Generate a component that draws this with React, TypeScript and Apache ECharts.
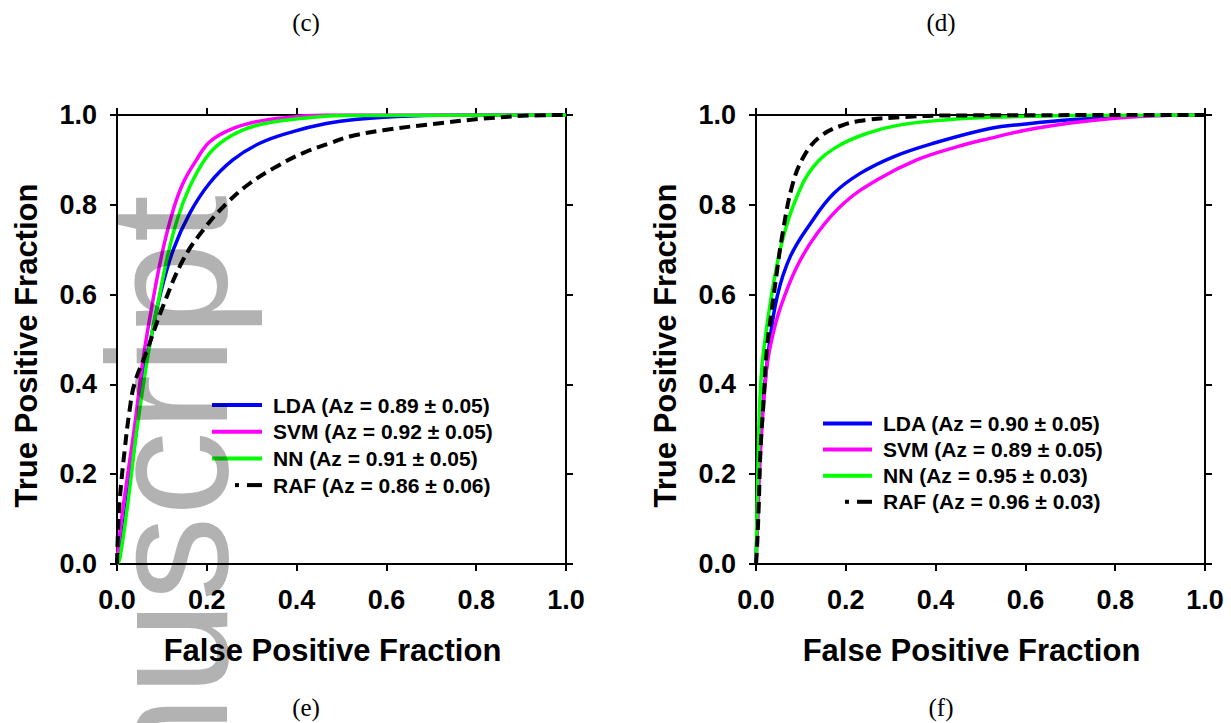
import React, { useEffect, useRef } from "react";
import * as echarts from "echarts";

// ---------- data ----------
const TICKS = [0, 0.2, 0.4, 0.6, 0.8, 1.0];
const X_TITLE = "False Positive Fraction";
const Y_TITLE = "True Positive Fraction";
const PANEL_TOP = ["(c)", "(d)"];
const PANEL_BOTTOM = ["(e)", "(f)"];
const METHODS = ["LDA", "SVM", "NN", "RAF"];
const COLORS = ["#0000ff", "#ff00ff", "#00ff00", "#000000"];

const AZ_C = ["0.89 ± 0.05", "0.92 ± 0.05", "0.91 ± 0.05", "0.86 ± 0.06"];
const AZ_D = ["0.90 ± 0.05", "0.89 ± 0.05", "0.95 ± 0.03", "0.96 ± 0.03"];

// panel (c)
const LDA_C = [[0,0],[0.006,0.02],[0.024,0.15],[0.042,0.29],[0.06,0.43],[0.075,0.5],[0.095,0.595],[0.125,0.699],[0.162,0.781],[0.206,0.848],[0.258,0.9],[0.318,0.937],[0.392,0.963],[0.466,0.981],[0.53,0.99],[0.65,0.998],[0.8,1],[1,1]];
const SVM_C = [[0,0],[0.006,0.067],[0.021,0.179],[0.039,0.305],[0.058,0.455],[0.08,0.587],[0.102,0.699],[0.125,0.788],[0.147,0.848],[0.177,0.9],[0.206,0.94],[0.251,0.967],[0.31,0.985],[0.385,0.995],[0.467,1],[1,1]];
const NN_C = [[0,0],[0.006,0.01],[0.025,0.142],[0.043,0.29],[0.062,0.42],[0.075,0.5],[0.091,0.58],[0.114,0.692],[0.136,0.773],[0.162,0.84],[0.195,0.9],[0.229,0.937],[0.281,0.967],[0.34,0.983],[0.415,0.993],[0.5,0.999],[1,1]];
const RAF_C = [[0,0],[0.002,0.067],[0.006,0.142],[0.017,0.253],[0.028,0.342],[0.039,0.402],[0.065,0.47],[0.102,0.573],[0.147,0.677],[0.192,0.744],[0.244,0.803],[0.296,0.848],[0.355,0.885],[0.414,0.915],[0.474,0.937],[0.518,0.952],[0.593,0.966],[0.704,0.98],[0.816,0.992],[0.927,0.999],[1,1]];

// panel (d)
const LDA_D = [[0,0],[0.003,0.1],[0.008,0.25],[0.017,0.37],[0.028,0.476],[0.047,0.595],[0.076,0.684],[0.121,0.758],[0.173,0.825],[0.232,0.87],[0.306,0.907],[0.395,0.937],[0.521,0.97],[0.6,0.98],[0.707,0.99],[0.855,0.998],[1,1]];
const SVM_D = [[0,0],[0.004,0.1],[0.01,0.25],[0.023,0.43],[0.035,0.5],[0.054,0.57],[0.091,0.662],[0.136,0.736],[0.195,0.803],[0.269,0.855],[0.358,0.9],[0.447,0.929],[0.521,0.948],[0.6,0.966],[0.7,0.982],[0.8,0.993],[0.9,0.999],[1,1]];
const NN_D = [[0,0],[0.001,0.05],[0.006,0.29],[0.011,0.41],[0.017,0.476],[0.039,0.625],[0.061,0.729],[0.091,0.818],[0.128,0.885],[0.18,0.929],[0.247,0.959],[0.321,0.978],[0.432,0.99],[0.521,0.995],[0.7,0.999],[1,1]];
const RAF_D = [[0,0],[0.002,0.03],[0.006,0.127],[0.01,0.253],[0.017,0.364],[0.024,0.476],[0.036,0.572],[0.047,0.654],[0.058,0.729],[0.08,0.84],[0.106,0.907],[0.143,0.952],[0.195,0.978],[0.247,0.989],[0.321,0.995],[0.43,0.999],[1,1]];

const SERIES_C = [LDA_C, SVM_C, NN_C, RAF_C];
const SERIES_D = [LDA_D, SVM_D, NN_D, RAF_D];

const WATERMARK = "nuscript";

// ---------- layout ----------
const FONT = "'Liberation Sans', Arial, Helvetica, sans-serif";
const SERIF = "'Liberation Serif', 'Times New Roman', serif";
const GRIDS = [
  { left: 117, top: 115, width: 449, height: 449 },
  { left: 756, top: 115, width: 449, height: 449 },
];
const PANEL_X = [306, 941];
const LEGEND_POS = [
  { x0: 212, x1: 262, tx: 273, y: 405, dy: 26.7, dot: 235 },
  { x0: 823, x1: 872, tx: 883, y: 423.5, dy: 26.1, dot: 845 },
];

export default function App() {
  const ref = useRef<HTMLDivElement>(null);
  useEffect(() => {
    if (!ref.current) return;
    const chart = echarts.init(ref.current, undefined, { renderer: "svg" });

    const axisCommon = {
      type: "value" as const,
      min: 0,
      max: 1,
      interval: 0.2,
      splitLine: { show: false },
      axisLine: { show: true, onZero: false, lineStyle: { color: "#000", width: 2 } },
      axisTick: { show: true, length: 7, inside: false, lineStyle: { color: "#000", width: 2 } },
    };
    const labelStyle = {
      fontFamily: FONT,
      fontWeight: "bold" as const,
      fontSize: 27,
      color: "#000",
      formatter: (v: number) => v.toFixed(1),
    };
    const nameStyle = { fontFamily: FONT, fontWeight: "bold" as const, fontSize: 31, color: "#000" };

    const xAxis: any[] = [];
    const yAxis: any[] = [];
    GRIDS.forEach((_, gi) => {
      xAxis.push({
        ...axisCommon,
        gridIndex: gi,
        position: "bottom",
        name: X_TITLE,
        nameLocation: "middle",
        nameGap: 71,
        nameTextStyle: { ...nameStyle, padding: [0, 18, 0, 0] },
        axisLabel: { ...labelStyle, margin: 22 },
      });
      xAxis.push({ ...axisCommon, gridIndex: gi, position: "top", axisLabel: { show: false } });
      yAxis.push({
        ...axisCommon,
        gridIndex: gi,
        position: "left",
        name: Y_TITLE,
        nameLocation: "middle",
        nameGap: 75,
        nameTextStyle: { ...nameStyle, padding: [0, 12, 0, 0] },
        axisLabel: { ...labelStyle, margin: 20 },
      });
      yAxis.push({ ...axisCommon, gridIndex: gi, position: "right", axisLabel: { show: false } });
    });

    const series: any[] = [];
    const graphic: any[] = [];
    [SERIES_C, SERIES_D].forEach((set, gi) => {
      const az = gi === 0 ? AZ_C : AZ_D;
      set.forEach((data, si) => {
        const dashed = METHODS[si] === "RAF";
        series.push({
          type: "line",
          name: `${METHODS[si]} (Az = ${az[si]})`,
          xAxisIndex: gi * 2,
          yAxisIndex: gi * 2,
          data,
          symbol: "none",
          showSymbol: false,
          smooth: 0.4,
          lineStyle: { color: COLORS[si], width: dashed ? 4 : 3.5, type: dashed ? [11, 6] : "solid" },
          z: 2 + si,
        });
      });
      // legend
      const L = LEGEND_POS[gi];
      METHODS.forEach((m, si) => {
        const y = L.y + si * L.dy;
        if (m === "RAF") {
          graphic.push({ type: "line", shape: { x1: L.dot, y1: y, x2: L.dot + 4, y2: y }, style: { stroke: "#000", lineWidth: 4 } });
          graphic.push({ type: "line", shape: { x1: L.dot + 12, y1: y, x2: L.x1, y2: y }, style: { stroke: "#000", lineWidth: 4 } });
        } else {
          graphic.push({ type: "line", shape: { x1: L.x0, y1: y, x2: L.x1, y2: y }, style: { stroke: COLORS[si], lineWidth: 4 } });
        }
        graphic.push({
          type: "text",
          x: L.tx,
          y,
          style: {
            text: `${m} (Az = ${az[si]})`,
            font: `bold 21px ${FONT}`,
            fill: "#000",
            textAlign: "left",
            textVerticalAlign: "middle",
          },
        });
      });
      graphic.push({ type: "text", x: PANEL_X[gi], y: 22, style: { text: PANEL_TOP[gi], font: `25px ${SERIF}`, fill: "#000", textAlign: "center", textVerticalAlign: "middle" } });
      graphic.push({ type: "text", x: PANEL_X[gi], y: 707, style: { text: PANEL_BOTTOM[gi], font: `25px ${SERIF}`, fill: "#000", textAlign: "center", textVerticalAlign: "middle" } });
    });

    // watermark
    graphic.push({
      type: "text",
      x: 168,
      y: 195,
      rotation: Math.PI / 2,
      z: 100,
      style: {
        text: WATERMARK,
        font: `170px ${FONT}`,
        fill: "rgba(0,0,0,0.3)",
        textAlign: "right",
        textVerticalAlign: "middle",
      },
    });

    chart.setOption({
      animation: false,
      backgroundColor: "#ffffff",
      grid: GRIDS,
      xAxis,
      yAxis,
      series,
      graphic,
    });
    return () => chart.dispose();
  }, []);

  return <div ref={ref} style={{ position: "fixed", left: 0, top: 0, width: 1231, height: 723 }} />;
}
